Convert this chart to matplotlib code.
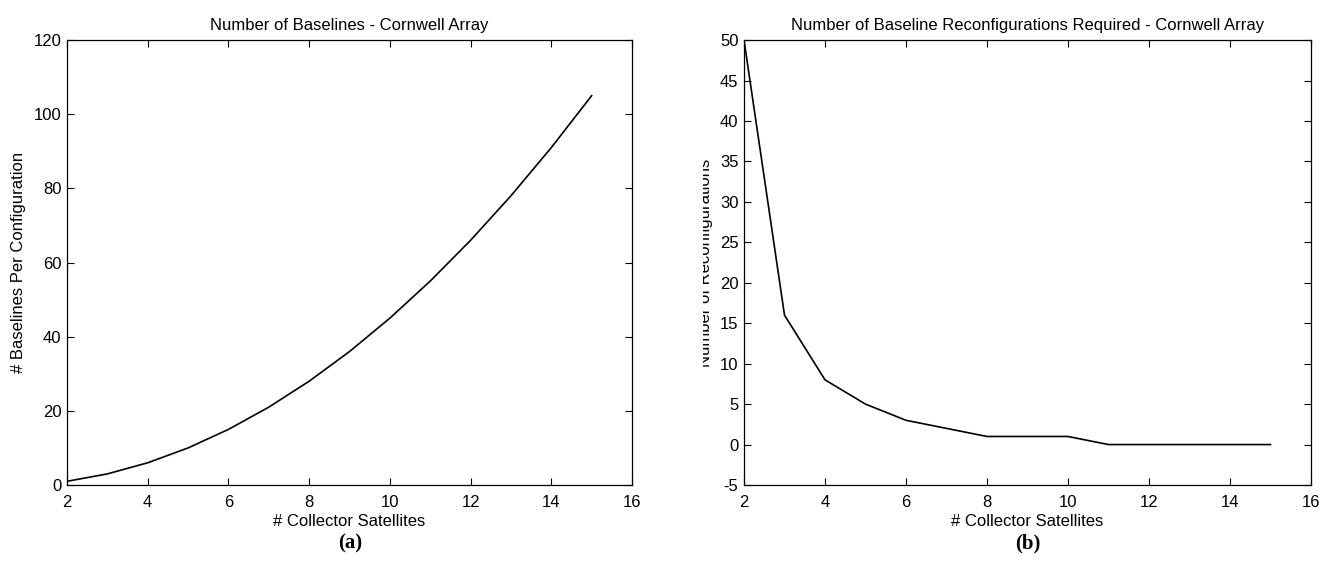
import matplotlib.pyplot as plt
from matplotlib.transforms import Bbox, TransformedBbox

# number of collector satellites
n_sats = [2, 3, 4, 5, 6, 7, 8, 9, 10, 11, 12, 13, 14, 15]

# (a) baselines per configuration
baselines = [1, 3, 6, 10, 15, 21, 28, 36, 45, 55, 66, 78, 91, 105]

# (b) reconfigurations required
reconfigs = [50, 16, 8, 5, 3, 2, 1, 1, 1, 0, 0, 0, 0, 0]

plt.rcParams["font.family"] = ["Liberation Sans", "DejaVu Sans"]
plt.rcParams["font.size"] = 12
plt.rcParams["axes.unicode_minus"] = False

fig = plt.figure(figsize=(13.3, 5.69), dpi=100)
ax1 = fig.add_axes([0.0504, 0.1476, 0.4248, 0.782])
ax2 = fig.add_axes([0.5594, 0.1476, 0.4263, 0.782])


def style_axes(ax):
    ax.tick_params(direction="in", top=True, right=True, length=5,
                   width=0.8, labelsize=12)
    ax.tick_params(axis="x", pad=7)
    ax.tick_params(axis="y", pad=4)
    for sp in ax.spines.values():
        sp.set_linewidth(0.9)


ax1.plot(n_sats, baselines, color="black", linewidth=1.2)
ax1.set_xlim(2, 16)
ax1.set_ylim(0, 120)
ax1.set_xticks(range(2, 17, 2))
ax1.set_yticks(range(0, 121, 20))
ax1.set_title("Number of Baselines - Cornwell Array", fontsize=12, pad=7)
ax1.set_xlabel("# Collector Satellites", fontsize=12, labelpad=3)
ax1.set_ylabel("# Baselines Per Configuration", fontsize=12)
ax1.yaxis.set_label_coords(-0.072, 0.5)
style_axes(ax1)

ax2.plot(n_sats, reconfigs, color="black", linewidth=1.2)
ax2.set_xlim(2, 16)
ax2.set_ylim(-5, 50)
ax2.set_xticks(range(2, 17, 2))
ax2.set_yticks(range(-5, 51, 5))
ax2.set_title("Number of Baseline Reconfigurations Required - Cornwell Array",
              fontsize=12, pad=7)
ax2.set_xlabel("# Collector Satellites", fontsize=12, labelpad=3)
ax2.set_ylabel("Number of Reconfigurations", fontsize=12)
ax2.yaxis.set_label_coords(-0.055, 0.5)
style_axes(ax2)

# the scanned original loses the top half of this label's letters
ylab = ax2.yaxis.label
ylab.set_clip_box(TransformedBbox(Bbox([[0.5285, 0.0], [1.0, 1.0]]),
                                  fig.transFigure))
ylab.set_clip_on(True)

fig.text(0.2632, 0.045, "(a)", ha="center", va="center",
         fontfamily="Liberation Serif", fontweight="bold", fontsize=15)
fig.text(0.7725, 0.045, "(b)", ha="center", va="center",
         fontfamily="Liberation Serif", fontweight="bold", fontsize=15)

fig.savefig("out.png", dpi=100, facecolor="white")
